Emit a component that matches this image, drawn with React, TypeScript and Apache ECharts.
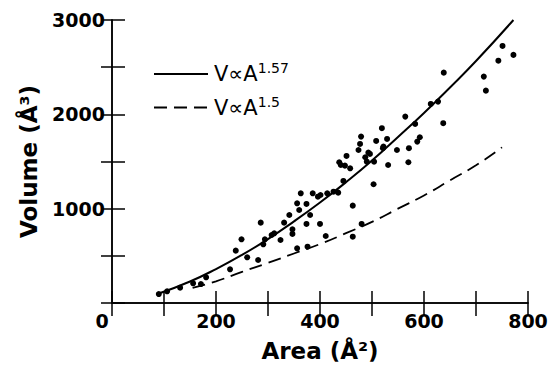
import React, { useEffect, useRef } from "react";
import * as echarts from "echarts";

// Measured points (surface area Å², volume Å³)
const pointArea = [90, 106, 131, 156, 171, 181, 227, 238, 249, 260, 281, 286, 291, 294, 307, 312, 324, 331, 341, 347, 347, 356, 360, 363, 356, 374, 374, 376, 381, 386, 396, 401, 400, 411, 414, 426, 435, 437, 440, 445, 448, 451, 458, 463, 463, 474, 477, 479, 480, 487, 490, 493, 496, 503, 504, 508, 519, 521, 522, 529, 531, 548, 564, 570, 571, 583, 587, 592, 613, 627, 638, 637, 715, 719, 743, 751, 772];
const pointVolume = [95, 124, 162, 209, 201, 272, 357, 555, 675, 484, 456, 852, 622, 675, 721, 739, 668, 852, 933, 781, 732, 1057, 986, 1163, 580, 1050, 838, 597, 933, 1163, 1127, 1145, 838, 710, 1163, 1180, 1170, 1492, 1463, 1294, 1456, 1559, 1428, 1032, 703, 1622, 1686, 1764, 838, 1545, 1498, 1594, 1580, 1259, 1498, 1718, 1853, 1641, 1658, 1739, 1463, 1622, 1976, 1492, 1641, 1898, 1711, 1757, 2110, 2135, 2442, 1906, 2400, 2251, 2569, 2725, 2630];

// Solid curve V ∝ A^1.57
const solidArea = [90, 150, 200, 250, 300, 350, 400, 450, 500, 550, 600, 650, 700, 772];
const solidVolume = [100, 228, 360, 510, 678, 865, 1065, 1280, 1510, 1760, 2015, 2285, 2565, 3000];

// Dashed curve V ∝ A^1.5
const dashedArea = [155, 200, 250, 300, 350, 400, 450, 500, 550, 600, 650, 700, 750];
const dashedVolume = [160, 230, 330, 425, 525, 625, 740, 860, 1000, 1140, 1300, 1460, 1650];

const xTicks = [0, 200, 400, 600, 800];
const yTicks = [1000, 2000, 3000];

const SOLID_NAME = "V∝A^1.57";
const DASHED_NAME = "V∝A^1.5";

const FONT = "DejaVu Sans";

const zip = (a: number[], b: number[]) => a.map((v, i) => [v, b[i]]);

export default function App() {
  const ref = useRef<HTMLDivElement>(null);
  useEffect(() => {
    if (!ref.current) return;
    const chart = echarts.init(ref.current, undefined, { renderer: "svg" });
    const lineAxis = { lineStyle: { color: "#000", width: 1.5 } };
    const tickStyle = { color: "#000", width: 1.5 };
    chart.setOption({
      animation: false,
      backgroundColor: "#fff",
      grid: { left: 112, right: 24, top: 20, bottom: 68, containLabel: false },
      legend: {
        orient: "vertical",
        left: 148,
        top: 56,
        itemWidth: 54,
        itemHeight: 24,
        itemGap: 10,
        selectedMode: false,
        data: [SOLID_NAME, DASHED_NAME],
        itemStyle: { color: "rgba(0,0,0,0)", borderWidth: 0, opacity: 0 },
        formatter: (name: string) =>
          name === SOLID_NAME ? "{b|V∝A}{s|1.57}" : "{b|V∝A}{s|1.5}",
        textStyle: {
          color: "#000",
          fontFamily: FONT,
          rich: {
            b: { fontFamily: FONT, fontSize: 21, color: "#000", lineHeight: 26, padding: [0, 0, 0, 1] },
            s: { fontFamily: FONT, fontSize: 14, color: "#000", lineHeight: 13, verticalAlign: "top" },
          },
        },
      },
      xAxis: [
        {
          type: "value",
          position: "bottom",
          min: 0,
          max: 800,
          interval: 100,
          axisLine: lineAxis,
          axisTick: { inside: true, length: 12, lineStyle: tickStyle },
          splitLine: { show: false },
          axisLabel: {
            margin: 8,
            color: "#000",
            fontFamily: FONT,
            fontWeight: "bold",
            fontSize: 19,
            formatter: (v: number) =>
              xTicks.includes(v) ? (v === 0 ? "{z|0}" : String(v)) : "",
            rich: {
              z: { fontFamily: FONT, fontWeight: "bold", fontSize: 19, color: "#000", padding: [0, 20, 0, 0] },
            },
          },
          name: "Area (Å²)",
          nameLocation: "middle",
          nameGap: 36,
          nameTextStyle: { color: "#000", fontFamily: FONT, fontWeight: "bold", fontSize: 23 },
        },
        {
          type: "value",
          position: "top",
          min: 0,
          max: 800,
          interval: 100,
          axisLine: lineAxis,
          axisTick: { inside: true, length: 13, lineStyle: tickStyle },
          axisLabel: { show: false },
          splitLine: { show: false },
        },
      ],
      yAxis: [
        {
          type: "value",
          position: "left",
          min: 0,
          max: 3000,
          interval: 500,
          axisLine: lineAxis,
          axisTick: { inside: true, length: 13, lineStyle: tickStyle },
          splitLine: { show: false },
          axisLabel: {
            margin: 7,
            color: "#000",
            fontFamily: FONT,
            fontWeight: "bold",
            fontSize: 19,
            formatter: (v: number) => (yTicks.includes(v) ? String(v) : ""),
          },
          name: "Volume (Å³)",
          nameLocation: "middle",
          nameGap: 72,
          nameTextStyle: { color: "#000", fontFamily: FONT, fontWeight: "bold", fontSize: 23 },
        },
        {
          type: "value",
          position: "right",
          min: 0,
          max: 3000,
          interval: 500,
          axisLine: lineAxis,
          axisTick: { inside: true, length: 11, lineStyle: tickStyle },
          axisLabel: { show: false },
          splitLine: { show: false },
        },
      ],
      series: [
        {
          type: "scatter",
          name: "data",
          xAxisIndex: 0,
          yAxisIndex: 0,
          symbolSize: 6,
          itemStyle: { color: "#000", opacity: 1 },
          data: zip(pointArea, pointVolume),
        },
        {
          type: "line",
          name: SOLID_NAME,
          xAxisIndex: 0,
          yAxisIndex: 0,
          symbol: "none",
          smooth: true,
          lineStyle: { color: "#000", width: 2, type: "solid" },
          itemStyle: { color: "#000" },
          data: zip(solidArea, solidVolume),
        },
        {
          type: "line",
          name: DASHED_NAME,
          xAxisIndex: 0,
          yAxisIndex: 0,
          symbol: "none",
          smooth: true,
          lineStyle: { color: "#000", width: 1.8, type: [13, 7] },
          itemStyle: { color: "#000" },
          data: zip(dashedArea, dashedVolume),
        },
      ],
    });
    return () => chart.dispose();
  }, []);
  return <div ref={ref} style={{ width: 552, height: 371, position: "absolute", left: 0, top: 0 }} />;
}
